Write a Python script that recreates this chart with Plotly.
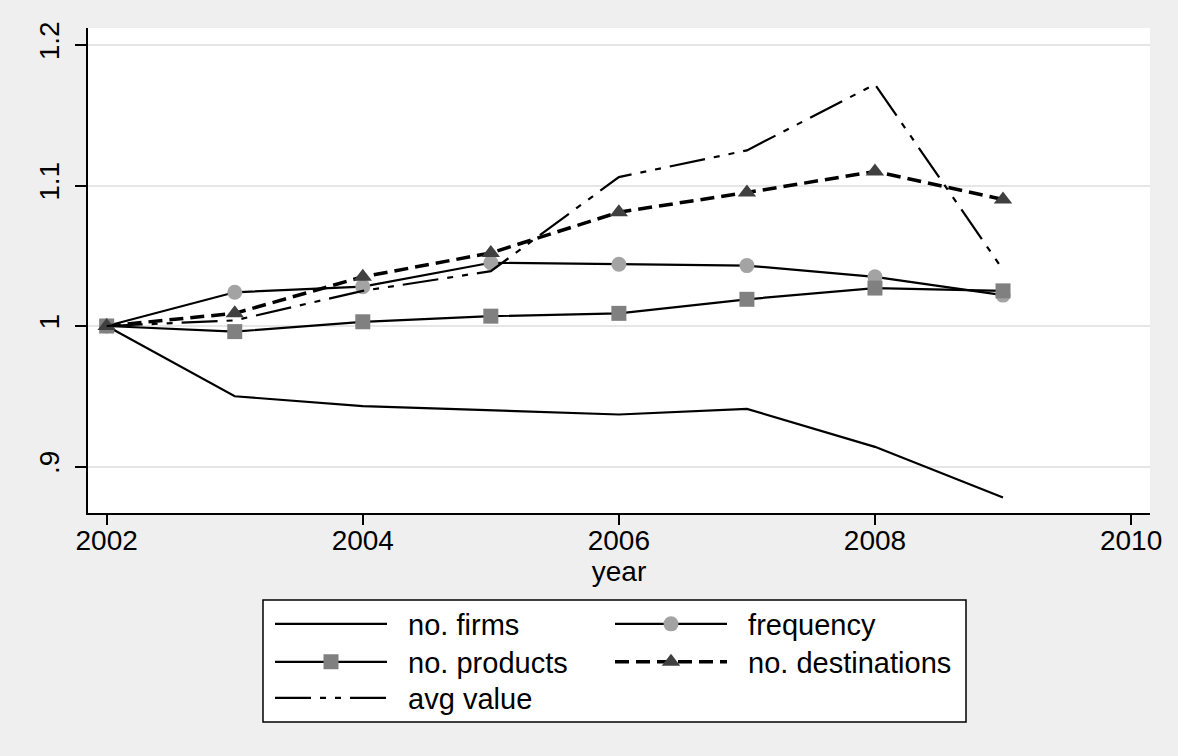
import plotly.graph_objects as go

years = [2002, 2003, 2004, 2005, 2006, 2007, 2008, 2009]
no_firms = [1.000, 0.950, 0.943, 0.940, 0.937, 0.941, 0.914, 0.878]
frequency = [1.000, 1.024, 1.028, 1.045, 1.044, 1.043, 1.035, 1.022]
no_products = [1.000, 0.996, 1.003, 1.007, 1.009, 1.019, 1.027, 1.025]
no_destinations = [1.000, 1.009, 1.035, 1.052, 1.081, 1.095, 1.110, 1.090]
avg_value = [1.000, 1.004, 1.025, 1.039, 1.106, 1.125, 1.172, 1.040]

x_ticks = [2002, 2004, 2006, 2008, 2010]
y_ticks = [0.9, 1.0, 1.1, 1.2]
y_ticklabels = [".9", "1", "1.1", "1.2"]

FONT = "Liberation Sans, Arial, sans-serif"
NB = "\u00a0\u00a0"

W, H = 1178, 756
L, R, T, B = 88, 28, 28, 243
pw, ph = W - L - R, H - T - B


def px2x(px):
    return (px - L) / pw


def px2y(py):
    return (H - B - py) / ph


fig = go.Figure()
fig.add_trace(go.Scatter(x=years, y=no_firms, mode="lines", name=NB + "no. firms",
                         line=dict(color="black", width=2.2), legend="legend"))
fig.add_trace(go.Scatter(x=years, y=frequency, mode="lines+markers", name=NB + "frequency",
                         line=dict(color="black", width=2.2),
                         marker=dict(symbol="circle", size=15, color="#A3A3A3"),
                         legend="legend2"))
fig.add_trace(go.Scatter(x=years, y=no_products, mode="lines+markers", name=NB + "no. products",
                         line=dict(color="black", width=2.2),
                         marker=dict(symbol="square", size=15, color="#808080"),
                         legend="legend3"))
fig.add_trace(go.Scatter(x=years, y=no_destinations, mode="lines+markers", name=NB + "no. destinations",
                         line=dict(color="black", width=3.5, dash="14px,7px"),
                         marker=dict(symbol="triangle-up", size=16, color="#404040"),
                         legend="legend4"))
fig.add_trace(go.Scatter(x=years, y=avg_value, mode="lines", name=NB + "avg value",
                         line=dict(color="black", width=2.2, dash="36px,9px,6px,9px,6px,9px"),
                         legend="legend5"))

fig.add_shape(type="rect", xref="paper", yref="paper",
              x0=px2x(263), x1=px2x(966), y0=px2y(600), y1=px2y(722),
              line=dict(color="black", width=1.5), fillcolor="white", layer="below")

legend_common = dict(orientation="v", bgcolor="rgba(0,0,0,0)", borderwidth=0,
                     font=dict(family=FONT, size=29, color="black"),
                     itemwidth=112, yanchor="middle", xanchor="left",
                     itemclick=False, itemdoubleclick=False)

col_x = [270, 610]
row_y = [624, 662, 698]

fig.update_layout(
    width=W, height=H,
    margin=dict(l=L, r=R, t=T, b=B, autoexpand=False),
    paper_bgcolor="#EFEFEF", plot_bgcolor="white",
    font=dict(family=FONT, size=28, color="black"),
    showlegend=True,
    legend=dict(x=px2x(col_x[0]), y=px2y(row_y[0]), **legend_common),
    legend2=dict(x=px2x(col_x[1]), y=px2y(row_y[0]), **legend_common),
    legend3=dict(x=px2x(col_x[0]), y=px2y(row_y[1]), **legend_common),
    legend4=dict(x=px2x(col_x[1]), y=px2y(row_y[1]), **legend_common),
    legend5=dict(x=px2x(col_x[0]), y=px2y(row_y[2]), **legend_common),
    xaxis=dict(range=[2001.854, 2010.148], tickvals=x_ticks, showgrid=False, zeroline=False,
               showline=True, linecolor="black", linewidth=1.5,
               ticks="outside", ticklen=10, tickwidth=1.5, tickcolor="black",
               ticklabelstandoff=-8,
               tickfont=dict(size=28), title=dict(text="year", font=dict(size=28), standoff=0)),
    yaxis=dict(range=[0.8669, 1.2121], tickvals=y_ticks, ticktext=y_ticklabels, tickangle=-90,
               showgrid=True, gridcolor="#E6E6E6", gridwidth=2, zeroline=False,
               showline=True, linecolor="black", linewidth=1.5,
               ticks="outside", ticklen=11, tickwidth=1.5, tickcolor="black",
               ticklabelstandoff=5,
               tickfont=dict(size=28)),
)

fig.write_html("out.html", config={"displayModeBar": False},
               post_script="document.body.style.margin='0';document.body.style.background='#EFEFEF';")
